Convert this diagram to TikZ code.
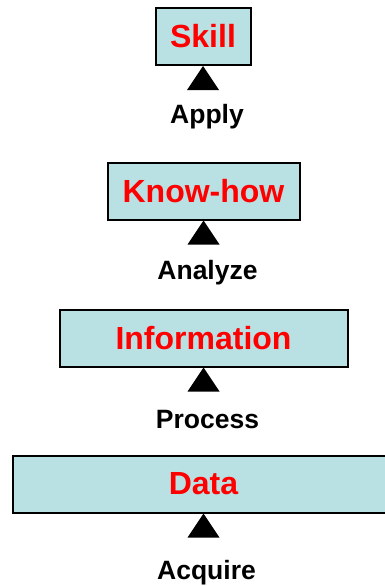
\documentclass[tikz,border=0pt]{standalone}
\usepackage{fontspec}
\setmainfont{Liberation Sans}
\definecolor{boxfill}{RGB}{185,224,227}
\tikzset{
  level/.style={draw=black, line width=2pt, fill=boxfill, text=red, inner sep=0pt,
    minimum height=57pt, font=\fontsize{32}{32}\selectfont\bfseries},
  verb/.style={anchor=base, font=\fontsize{26.5}{26.5}\selectfont\bfseries},
}
\newcommand{\uptri}[1]{\fill (#1.south) -- ++(-16,24) -- ++(32,0) -- cycle;}
\begin{document}
\begin{tikzpicture}[x=1pt,y=-1pt]
    \useasboundingbox (0,0) rectangle (384,586);
    % the four levels
    \node[level, minimum width=95pt] (skill) at (203,36.5) {Skill};
    \node[level, minimum width=192pt] (knowhow) at (203.5,191) {Know-how};
    \node[level, minimum width=288pt] (info) at (203.5,338) {Information};
    \node[level, minimum width=382pt] (data) at (203.5,484) {Data};
    % triangles under the boxes
    \uptri{skill}
    \uptri{knowhow}
    \uptri{info}
    \uptri{data}
    % verbs
    \node[verb] (apply) at (207,123) {Apply};
    \node[verb] (analyze) at (207.5,279) {Analyze};
    \node[verb] (process) at (207.5,428) {Process};
    \node[verb] (acquire) at (206.5,579) {Acquire};
\end{tikzpicture}
\end{document}
